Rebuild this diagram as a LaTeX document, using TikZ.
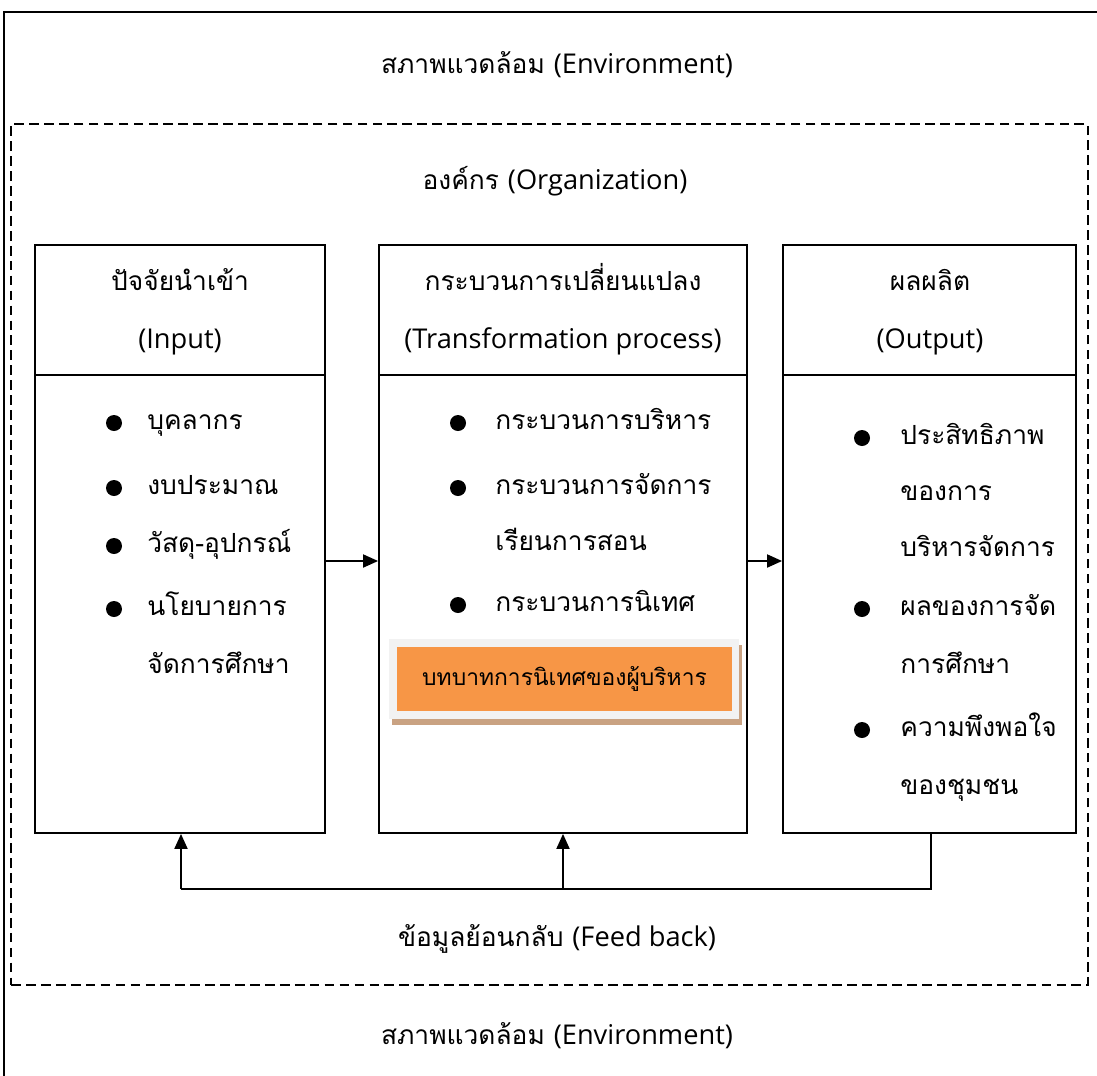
\documentclass[tikz,border=0pt]{standalone}
\usepackage{fontspec}
\setmainfont[Script=Thai]{Loma}
\newfontfamily\latin{Open Sans}
\usetikzlibrary{positioning,arrows.meta}
\definecolor{orangefill}{RGB}{247,150,70}
\definecolor{panelgray}{RGB}{242,242,242}
\definecolor{shadowtan}{RGB}{201,162,130}
\newcommand{\en}[1]{{\latin\fontsize{15.5}{18}\selectfont #1}}

\begin{document}
\begin{tikzpicture}[x=0.02cm,y=-0.02cm,font=\fontsize{15}{18}\selectfont]
  	\tikzstyle{box}=[rectangle, draw=black, line width=1.1pt, minimum height=11.76cm, inner sep=0pt]
  	\tikzstyle{connect}=[-{Triangle[length=0.3cm,width=0.26cm]}, line width=1.1pt]
  	\tikzstyle{dot}=[circle, fill=black, inner sep=0pt, minimum size=0.32cm]
  	\tikzstyle{item}=[anchor=west, inner sep=0pt, text height=1em, text depth=0.35em]
  	\tikzstyle{title}=[inner sep=0pt, text height=1em, text depth=0.35em]
  	\useasboundingbox (0,0) rectangle (1097,1075);
  	\clip (0,0) rectangle (1097,1075);
  	% outer frame (only top and left edges in view)
  	\draw[line width=1.1pt] (4,12) rectangle (1200,1200);
  	\node[title] (envT) at (557,68) {สภาพแวดล้อม \en{(Environment)}};
  	\node[title] (envB) at (557,1039) {สภาพแวดล้อม \en{(Environment)}};
  	% organization
  	\node[rectangle, draw=black, line width=1.1pt, dash pattern=on 5.5pt off 3pt,
  	      minimum width=21.54cm, minimum height=17.22cm, inner sep=0pt] (org) at (549.5,554.5) {};
  	\node[title] (orgT) at (555,184) {องค์กร \en{(Organization)}};
  	
  	\node[box, minimum width=5.8cm] (inp) at (180,539) {};
  	\node[box, minimum width=7.36cm] (trans) at (563,539) {};
  	\node[box, minimum width=5.86cm] (outp) at (929.5,539) {};
  	\coordinate (hdr) at (0,375);
  	\draw[line width=1.1pt] (inp.west |- hdr) -- (inp.east |- hdr);
  	\draw[line width=1.1pt] (trans.west |- hdr) -- (trans.east |- hdr);
  	\draw[line width=1.1pt] (outp.west |- hdr) -- (outp.east |- hdr);
  	
  	\node[title] (inpA) at (180,285) {ปัจจัยนำเข้า};
  	\node[title] (inpB) at (180,343) {\en{(Input)}};
  	\node[title] (transA) at (563,285) {กระบวนการเปลี่ยนแปลง};
  	\node[title] (transB) at (563,343) {\en{(Transformation process)}};
  	\node[title] (outpA) at (930,285) {ผลผลิต};
  	\node[title] (outpB) at (930,343) {\en{(Output)}};
  	
  	% input items
  	\foreach \y [count=\i] in {423,488,546,609}
  	  \node[dot] (ib\i) at (114,\y) {};
  	\foreach \t/\y [count=\i] in {บุคลากร/424,งบประมาณ/489,วัสดุ-อุปกรณ์/547,นโยบายการ/610,จัดการศึกษา/668}
  	  \node[item] (it\i) at (147,\y) {\t};
  	% process items
  	\foreach \y [count=\i] in {423,488,605}
  	  \node[dot] (pb\i) at (458,\y) {};
  	\foreach \t/\y [count=\i] in {กระบวนการบริหาร/424,กระบวนการจัดการ/489,เรียนการสอน/545,กระบวนการนิเทศ/606}
  	  \node[item] (pt\i) at (495,\y) {\t};
  	% output items
  	\foreach \y [count=\i] in {438,609,730}
  	  \node[dot] (ob\i) at (862,\y) {};
  	\foreach \t/\y [count=\i] in {ประสิทธิภาพ/439,ของการ/495,บริหารจัดการ/551,ผลของการจัด/610,การศึกษา/668,ความพึงพอใจ/731,ของชุมชน/789}
  	  \node[item] (ot\i) at (900,\y) {\t};
  	
  	% highlighted role box
  	\fill[shadowtan] (392,645) rectangle (742,725);
  	\fill[panelgray] (389,639) rectangle (739,719);
  	\node[rectangle, fill=orangefill, minimum width=6.7cm, minimum height=1.28cm, inner sep=0pt,
  	      font=\fontsize{13}{15}\selectfont] (role) at (564.5,679) {บทบาทการนิเทศของผู้บริหาร};
  	
  	% flow
  	\coordinate (mid) at (0,561);
  	\draw[connect] (inp.east |- mid) -- (trans.west |- mid);
  	\draw[connect] (trans.east |- mid) -- (outp.west |- mid);
  	% feedback
  	\coordinate (fbR) at (931,889);
  	\coordinate (fbM) at (563,889);
  	\coordinate (fbL) at (181,889);
  	\draw[line width=1.1pt] (outp.south -| fbR) -- (fbR) -- (fbL);
  	\draw[connect] (fbL) -- (inp.south -| fbL);
  	\draw[connect] (fbM) -- (trans.south -| fbM);
  	\node[title] (fbT) at (557,941) {ข้อมูลย้อนกลับ \en{(Feed back)}};
\end{tikzpicture}
\end{document}
